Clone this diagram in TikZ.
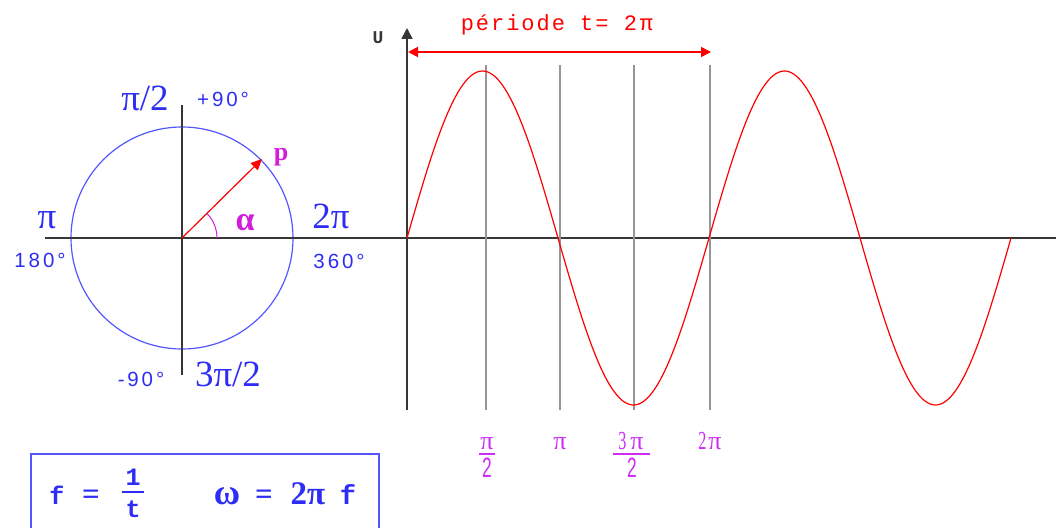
\documentclass[tikz,border=0pt]{standalone}
\usepackage{fontspec}
\setmainfont{Liberation Serif}
\newfontfamily\sansf{Liberation Sans}
\newfontfamily\degf[LetterSpace=14]{Liberation Sans}
\newfontfamily\monof{Liberation Mono}
\newfontfamily\perf[LetterSpace=9]{Liberation Mono}
\usetikzlibrary{arrows.meta}
\definecolor{blueT}{RGB}{45,45,245}
\definecolor{blueC}{RGB}{85,85,255}
\definecolor{magT}{RGB}{205,45,245}
\definecolor{magP}{RGB}{210,30,220}
\definecolor{greyL}{RGB}{150,150,150}
\definecolor{axisC}{RGB}{55,55,55}
\newcommand{\ndig}[1]{\scalebox{0.62}[1]{#1}}
\tikzset{
  axisline/.style={axisC, line width=1.6pt},
  gridline/.style={greyL, line width=1.3pt},
  bigpi/.style={blueT, font=\fontsize{37}{37}\selectfont, inner sep=0pt, anchor=base},
  deg/.style={blueT, font=\degf\fontsize{20.5}{20.5}\selectfont, inner sep=0pt, anchor=base},
  ticklab/.style={magT, font=\fontsize{26}{26}\selectfont, inner sep=0pt, anchor=base},
  tickdig/.style={magT, font=\sansf\fontsize{28}{28}\selectfont, inner sep=0pt, anchor=base},
  formula/.style={blueT, font=\bfseries\fontsize{31}{31}\selectfont, inner sep=0pt, anchor=base},
  fmono/.style={blueT, font=\monof\bfseries\fontsize{25}{25}\selectfont, inner sep=0pt, anchor=base},
}
\begin{document}
\begin{tikzpicture}[x=1pt,y=-1pt]
\useasboundingbox (0,0) rectangle (1056,527);
% ---------- circle ----------
\coordinate (O) at (182,238);
\coordinate (hl) at (45,238);
\coordinate (hr) at (1056,238);
\coordinate (vt) at (182,105);
\coordinate (vb) at (182,375);
\draw[blueC, line width=1.2pt] (O) circle[radius=111pt];
\draw[axisline] (hl) -- (hr);
\draw[axisline] (vt) -- (vb);
\coordinate (P) at (262,159);
\draw[red, line width=1.2pt, -{Triangle[length=11pt,width=10pt]}] (O) -- (P);
\draw[magP, line width=1pt] ([xshift=35pt]O) arc[start angle=0, end angle=45, radius=35pt];
\node[bigpi] (lpi2) at (145,110) {π/2};
\node[deg] (l90) at (223,106) {+90°};
\node[magP, font=\bfseries\fontsize{26}{26}\selectfont, inner sep=0pt, anchor=base] (lp) at (281,160) {p};
\node[bigpi] (lpi) at (47,228) {π};
\node[magP, font=\bfseries\fontsize{34}{34}\selectfont, inner sep=0pt, anchor=base] (lalpha) at (245,230) {α};
\node[bigpi] (l2pi) at (331,228) {2π};
\node[deg] (l180) at (40,267) {180°};
\node[deg] (l360) at (339,268) {3\kern3pt 60°};
\node[deg] (lm90) at (141,386) {-90°};
\node[bigpi] (l3pi2) at (228,386) {3π/2};
% ---------- wave ----------
\coordinate (ub) at (407,410);
\coordinate (ut) at (407,28);
\draw[axisline, -{Triangle[length=11pt,width=11pt]}] (ub) -- (ut);
\node[axisC, font=\monof\bfseries\fontsize{18}{18}\selectfont, inner sep=0pt] (lU) at (378,38) {U};
\foreach \xx/\nm in {486/a,560/b,634/c,710/d}{
  \coordinate (g\nm t) at (\xx,65);
  \coordinate (g\nm b) at (\xx,410);
  \draw[gridline] (g\nm t) -- (g\nm b);
}
\draw[red, line width=1.2pt] plot[domain=0:720, samples=240] ({407+\x/360*302}, {238-167*sin(\x)});
\coordinate (pa) at (408,52);
\coordinate (pb) at (711,52);
\draw[red, line width=1.8pt, {Triangle[length=10pt,width=10pt]}-{Triangle[length=10pt,width=10pt]}] (pa) -- (pb);
\node[red, font=\perf\fontsize{22}{22}\selectfont, inner sep=0pt] (lper) at (557,25) {période t= 2\kern3pt π};
% tick labels
\node[ticklab] (tpi2n) at (487,449) {π};
\draw[magT, line width=1.2pt] (479,454) -- (495,454);
\node[tickdig] (tpi2d) at (487,477) {\ndig{2}};
\node[ticklab] (tpi) at (560,449) {π};
\node[ticklab] (t3pi2n) at (631,449) {\ndig{3}\kern4pt π};
\draw[magT, line width=1.2pt] (613,454) -- (650,454);
\node[tickdig] (t3pi2d) at (632,477) {\ndig{2}};
\node[ticklab] (t2pi) at (710,449) {\ndig{2}\kern2pt π};
% ---------- formula box ----------
\coordinate (b1) at (31,540);
\coordinate (b2) at (31,454);
\coordinate (b3) at (379,454);
\coordinate (b4) at (379,540);
\draw[blueC, line width=1.6pt] (b1) -- (b2) -- (b3) -- (b4);
\node[fmono] (ff) at (57,504) {f};
\node[formula] (feq) at (91,504) {=};
\node[blueT, font=\monof\bfseries\fontsize{25}{25}\selectfont, inner sep=0pt] (fnum) at (133,477) {1};
\draw[blueT, line width=1.3pt] (122,492) -- (144,492);
\node[blueT, font=\monof\bfseries\fontsize{25}{25}\selectfont, inner sep=0pt] (fden) at (133,509) {t};
\node[formula, font=\bfseries\fontsize{36}{36}\selectfont] (fom) at (227,504) {ω};
\node[formula] (feq2) at (264,504) {=};
\node[formula, font=\bfseries\fontsize{33}{33}\selectfont] (f2pi) at (308,504) {2π};
\node[fmono, font=\monof\bfseries\fontsize{27}{27}\selectfont] (ff2) at (348,504) {f};
\end{tikzpicture}
\end{document}
